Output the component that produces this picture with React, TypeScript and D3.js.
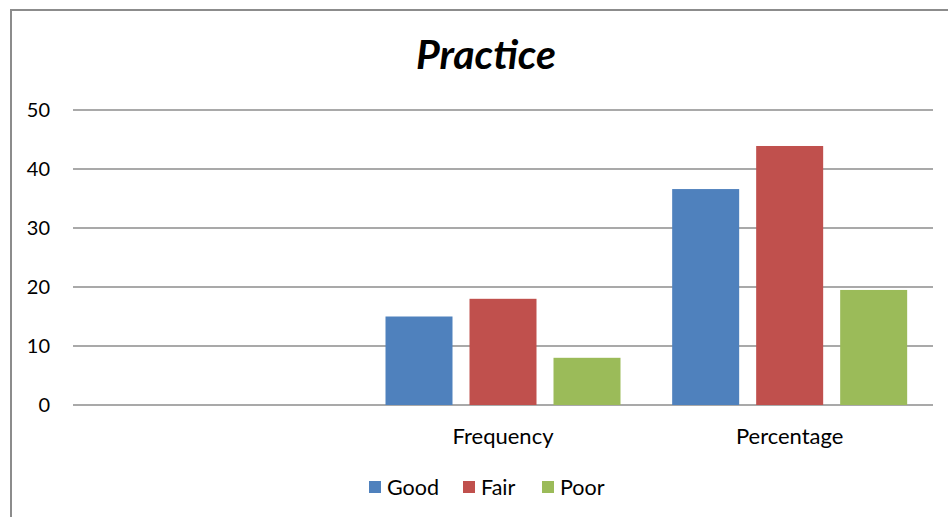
import React from "react";
import * as d3 from "d3";

const categories = ["", "Frequency", "Percentage"];
const seriesNames = ["Good", "Fair", "Poor"];
const good = [NaN, 15, 36.6];
const fair = [NaN, 18, 43.9];
const poor = [NaN, 8, 19.5];
const yTicks = [0, 10, 20, 30, 40, 50];
const colors = ["#4F81BD", "#C0504D", "#9BBB59"];

export default function App() {
  const W = 948, H = 517;
  const x0 = d3.scaleBand().domain(categories).range([73, 933]).paddingInner(0).paddingOuter(0);
  const y = d3.scaleLinear().domain([0, 50]).range([405, 110]);
  const series = [good, fair, poor];
  const bw = 67, gap = 17;
  const groupW = bw * 3 + gap * 2;
  const font = "Lato, 'Open Sans', sans-serif";
  const legendX = [369, 463, 542];
  return (
    <svg width={W} height={H} style={{ position: "absolute", left: 0, top: 0, background: "#fff" }} fontFamily={font}>
      <rect x={11} y={10} width={W + 10} height={H + 10} fill="#fff" stroke="#8c8c8c" strokeWidth={2} />
      <text x={486} y={69} textAnchor="middle" fontSize={41} fontWeight="bold" fontStyle="italic" fill="#000">Practice</text>
      {yTicks.map((t) => (
        <g key={t}>
          <line x1={73} x2={933} y1={y(t)} y2={y(t)} stroke="#8c8c8c" strokeWidth={1.5} />
          <text x={50} y={y(t) + 7} textAnchor="end" fontSize={20} fill="#000">{t}</text>
        </g>
      ))}
      {categories.map((c, i) => {
        const cx = (x0(c) as number) + x0.bandwidth() / 2;
        return (
          <g key={i}>
            {series.map((s, j) =>
              isNaN(s[i]) ? null : (
                <rect key={j} x={cx - groupW / 2 + j * (bw + gap)} y={y(s[i])} width={bw} height={y(0) - y(s[i])} fill={colors[j]} />
              )
            )}
            <text x={cx} y={444} textAnchor="middle" fontSize={22} fill="#000">{c}</text>
          </g>
        );
      })}
      {seriesNames.map((n, j) => (
        <g key={n}>
          <rect x={legendX[j]} y={481} width={12} height={12} fill={colors[j]} />
          <text x={legendX[j] + 18} y={495} fontSize={21.5} fill="#000">{n}</text>
        </g>
      ))}
    </svg>
  );
}
